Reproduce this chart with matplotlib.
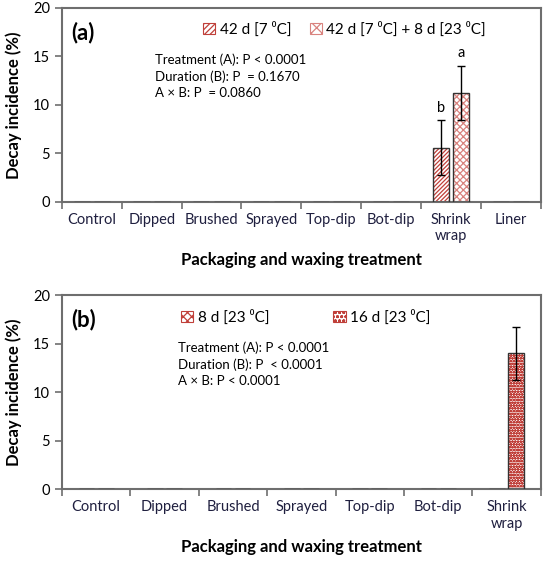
import matplotlib
matplotlib.use("Agg")
import matplotlib.pyplot as plt
from matplotlib.patches import Rectangle
import numpy as np

plt.rcParams['font.family'] = ['Lato', 'DejaVu Sans']
plt.rcParams['hatch.linewidth'] = 0.9

# Dados
cats_a = ['Control', 'Dipped', 'Brushed', 'Sprayed', 'Top-dip', 'Bot-dip', 'Shrink\nwrap', 'Liner']
d42 = [0, 0, 0, 0, 0, 0, 5.6, 0]
d42_err = [0, 0, 0, 0, 0, 0, 2.8, 0]
d42_8 = [0, 0, 0, 0, 0, 0, 11.2, 0]
d42_8_err = [0, 0, 0, 0, 0, 0, 2.8, 0]
letters_a = {6: ('b', 'a')}

cats_b = ['Control', 'Dipped', 'Brushed', 'Sprayed', 'Top-dip', 'Bot-dip', 'Shrink\nwrap']
d8 = [0, 0, 0, 0, 0, 0, 0]
d16 = [0, 0, 0, 0, 0, 0, 14.0]
d16_err = [0, 0, 0, 0, 0, 0, 2.7]

red = '#c0403a'
edge = '#333333'
axc = '#6e6e6e'


def hatched_bars(ax, x, h, w, hatch, color):
    ax.bar(x, h, w, color='white', edgecolor=color, hatch=hatch, linewidth=0, zorder=2)
    ax.bar(x, h, w, color='none', edgecolor=edge, linewidth=1.0, zorder=3)


def style_axes(ax, cats):
    n = len(cats)
    ax.set_xlim(-0.5, n - 0.5)
    ax.set_ylim(0, 20)
    ax.set_yticks([0, 5, 10, 15, 20])
    ax.set_xticks(np.arange(n + 1) - 0.5)
    ax.set_xticklabels([])
    ax.set_xticks(np.arange(n), minor=True)
    ax.set_xticklabels(cats, minor=True, fontsize=10.5, color='#1f1f3f')
    ax.tick_params(axis='x', which='major', direction='out', length=5, width=1.2, color=axc)
    ax.tick_params(axis='x', which='minor', length=0, pad=8)
    ax.tick_params(axis='y', direction='out', length=5, width=1.2, color=axc, labelsize=10.5)
    for s in ax.spines.values():
        s.set_color(axc)
        s.set_linewidth(1.5)
    ax.set_ylabel('Decay incidence (%)', fontsize=12, fontweight='bold', labelpad=8)
    ax.set_xlabel('Packaging and waxing treatment', fontsize=12, fontweight='bold', labelpad=6)


fig = plt.figure(figsize=(5.43, 5.61), dpi=100)
ax1 = fig.add_axes([0.114, 0.640, 0.882, 0.346])
ax2 = fig.add_axes([0.114, 0.128, 0.882, 0.346])

# (a)
x = np.arange(len(cats_a))
w = 0.27
off = 0.17
hatched_bars(ax1, x - off, d42, w, '////////', red)
hatched_bars(ax1, x + off, d42_8, w, 'xxxxx', '#d9837f')
for i in range(len(cats_a)):
    if d42[i] > 0:
        ax1.errorbar(x[i] - off, d42[i], yerr=d42_err[i], fmt='none', ecolor='black', elinewidth=1, capsize=3, zorder=4)
    if d42_8[i] > 0:
        ax1.errorbar(x[i] + off, d42_8[i], yerr=d42_8_err[i], fmt='none', ecolor='black', elinewidth=1, capsize=3, zorder=4)
for i, (la, lb) in letters_a.items():
    ax1.text(x[i] - off, d42[i] + d42_err[i] + 0.6, la, ha='center', va='bottom', fontsize=10.5)
    ax1.text(x[i] + off, d42_8[i] + d42_8_err[i] + 0.6, lb, ha='center', va='bottom', fontsize=10.5)
style_axes(ax1, cats_a)
ax1.text(0.02, 0.93, '(a)', transform=ax1.transAxes, fontsize=16, fontweight='bold', va='top')
h1 = [Rectangle((0, 0), 1, 1, facecolor='white', edgecolor=red, hatch='//////', linewidth=0.8),
      Rectangle((0, 0), 1, 1, facecolor='white', edgecolor='#d9837f', hatch='xxx', linewidth=0.8)]
ax1.legend(h1, ['42 d [7 \u2070C]', '42 d [7 \u2070C] + 8 d [23 \u2070C]'], loc='upper center',
           bbox_to_anchor=(0.59, 1.0), ncol=2, frameon=False, fontsize=11,
           handlelength=0.8, handleheight=0.8, handletextpad=0.3, columnspacing=1.2)
ax1.text(0.195, 0.765, 'Treatment (A): P < 0.0001\nDuration (B): P  = 0.1670\nA \u00d7 B: P  = 0.0860',
         transform=ax1.transAxes, fontsize=9.5, va='top', linespacing=1.4)

# (b)
x = np.arange(len(cats_b))
w = 0.23
off = 0.14
hatched_bars(ax2, x - off, d8, w, 'xxxx', red)
hatched_bars(ax2, x + off, d16, w, 'oooooo', red)
for i in range(len(cats_b)):
    if d16[i] > 0:
        ax2.errorbar(x[i] + off, d16[i], yerr=d16_err[i], fmt='none', ecolor='black', elinewidth=1, capsize=3, zorder=4)
style_axes(ax2, cats_b)
ax2.text(0.02, 0.93, '(b)', transform=ax2.transAxes, fontsize=16, fontweight='bold', va='top')
h2 = [Rectangle((0, 0), 1, 1, facecolor='white', edgecolor=red, hatch='xxxx', linewidth=0.8),
      Rectangle((0, 0), 1, 1, facecolor='white', edgecolor=red, hatch='oooo', linewidth=0.8)]
ax2.legend(h2, ['8 d [23 \u2070C]', '16 d [23 \u2070C]'], loc='upper left',
           bbox_to_anchor=(0.22, 0.995), ncol=2, frameon=False, fontsize=11,
           handlelength=0.8, handleheight=0.8, handletextpad=0.3, columnspacing=4.2)
ax2.text(0.243, 0.76, 'Treatment (A): P < 0.0001\nDuration (B): P  < 0.0001\nA \u00d7 B: P < 0.0001',
         transform=ax2.transAxes, fontsize=9.5, va='top', linespacing=1.4)

fig.savefig('out.png', dpi=100)
